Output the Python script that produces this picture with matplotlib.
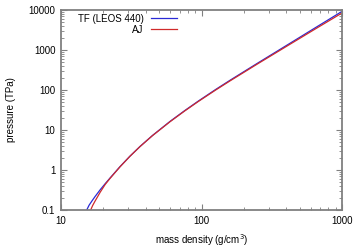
import matplotlib
matplotlib.use("Agg")
import matplotlib.pyplot as plt
from matplotlib.ticker import FixedLocator, LogLocator, FuncFormatter, NullFormatter

plt.rcParams['font.family'] = ['Liberation Sans', 'DejaVu Sans']

# Data
rho_tf = [15.24, 15.85, 16.6, 17.46, 19.05, 20.65, 22.34, 26.3, 30.9, 36.5,
          44.7, 59.7, 75.9, 94.8, 125.9, 159.6, 251, 427, 631, 1000]
p_tf = [0.1, 0.132, 0.168, 0.216, 0.324, 0.457, 0.631, 1.213, 2.20, 3.87,
        7.26, 16.4, 30.5, 52.7, 102.6, 175, 470, 1476, 3428, 9226]
rho_aj = [16.26, 16.79, 17.46, 19.05, 20.65, 22.34, 26.3, 30.9, 36.5,
          44.7, 59.7, 75.9, 94.8, 125.9, 159.6, 251, 427, 631, 1000]
p_aj = [0.1, 0.129, 0.166, 0.282, 0.437, 0.617, 1.20, 2.19, 3.85,
        7.19, 16.1, 29.9, 51.5, 99.5, 169, 451, 1396, 3199, 8414]

xticks = [10, 100, 1000]
yticks = [0.1, 1, 10, 100, 1000, 10000]
label_tf = "TF (LEOS 440)"
label_aj = "AJ"

fig = plt.figure(figsize=(3.6, 2.52), dpi=100)
ax = fig.add_axes([61/360, 42/252, 281/360, 200/252])
ax.plot(rho_tf, p_tf, color='#2a2ad6', lw=0.9, label=label_tf)
ax.plot(rho_aj, p_aj, color='#d02a2a', lw=0.9, label=label_aj)
ax.set_xscale('log')
ax.set_yscale('log')
ax.set_xlim(10, 1000)
ax.set_ylim(0.1, 10000)

fmt = FuncFormatter(lambda v, p: '%g' % v)
ax.xaxis.set_major_locator(FixedLocator(xticks))
ax.yaxis.set_major_locator(FixedLocator(yticks))
ax.xaxis.set_major_formatter(fmt)
ax.yaxis.set_major_formatter(fmt)
ax.xaxis.set_minor_locator(LogLocator(base=10, subs=range(2, 10)))
ax.yaxis.set_minor_locator(LogLocator(base=10, subs=range(2, 10)))
ax.xaxis.set_minor_formatter(NullFormatter())
ax.yaxis.set_minor_formatter(NullFormatter())

ax.tick_params(which='both', direction='in', top=True, right=True,
               color='#808080', labelsize=7, labelcolor='black')
ax.tick_params(which='major', length=4, width=0.8, pad=4)
ax.tick_params(which='minor', length=2, width=0.6)
for s in ax.spines.values():
    s.set_color('#808080')
    s.set_linewidth(1.3)

ax.set_xlabel('mass density (g/cm$^3$)', fontsize=7, labelpad=5)
ax.set_ylabel('pressure (TPa)', fontsize=7, labelpad=9)

leg = ax.legend(loc='upper left', bbox_to_anchor=(0.045, 1.0), frameon=False,
                markerfirst=False, fontsize=7, handlelength=2.7,
                handletextpad=0.8, labelspacing=0.1, borderaxespad=0.0)

fig.savefig('out.png', dpi=100)
